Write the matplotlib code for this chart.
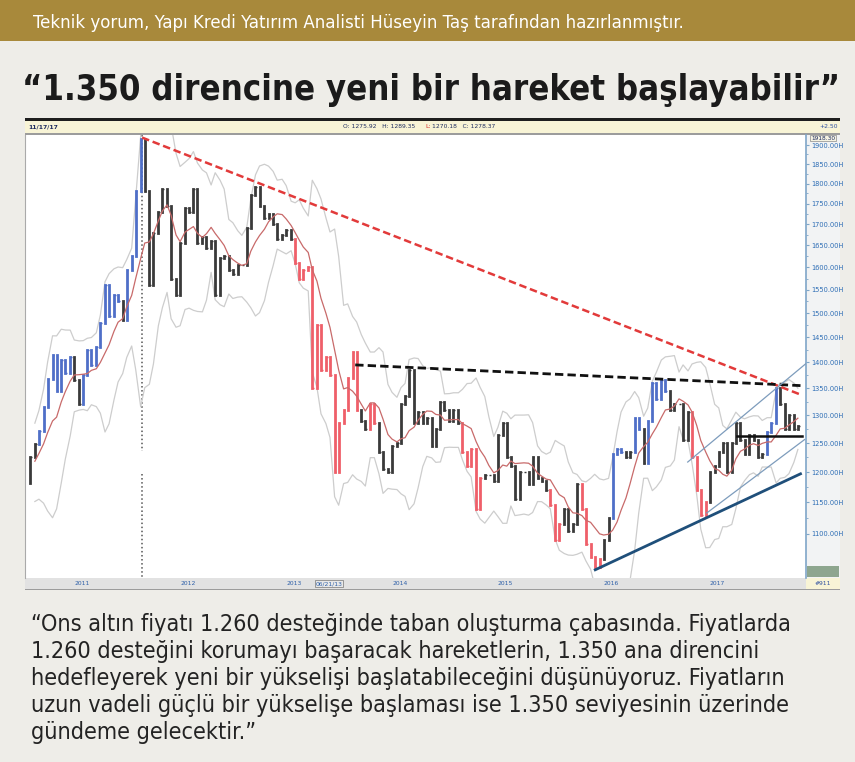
import numpy as np
import pandas as pd
import matplotlib.pyplot as plt
from matplotlib.patches import Rectangle
from matplotlib.ticker import FixedLocator, NullFormatter

# ons altin, yarim aylik kapanislar (1 ve 15'i), Agustos 2010 - Kasim 2017
close_2010 = [1182, 1225, 1248, 1272, 1315, 1368, 1415, 1345, 1405, 1380]
close_2011 = [1410, 1365, 1320, 1375, 1425, 1395, 1430, 1480, 1560, 1495, 1540, 1525,
              1485, 1595, 1625, 1780, 1915, 1780, 1560, 1680, 1730, 1785, 1745, 1575]
close_2012 = [1540, 1655, 1740, 1730, 1785, 1655, 1670, 1645, 1660, 1540, 1620, 1625,
              1595, 1585, 1605, 1605, 1690, 1770, 1790, 1745, 1715, 1725, 1700, 1665]
close_2013 = [1675, 1685, 1665, 1610, 1575, 1595, 1600, 1350, 1475, 1385, 1410, 1375,
              1200, 1285, 1310, 1370, 1420, 1310, 1290, 1275, 1320, 1285, 1235, 1205]
close_2014 = [1200, 1245, 1250, 1320, 1335, 1385, 1285, 1305, 1285, 1295, 1245, 1275,
              1325, 1310, 1290, 1310, 1285, 1235, 1210, 1240, 1140, 1190, 1195, 1195]
close_2015 = [1185, 1265, 1285, 1225, 1210, 1155, 1200, 1200, 1180, 1225, 1190, 1185,
              1170, 1145, 1090, 1115, 1140, 1105, 1115, 1180, 1140, 1085, 1065, 1050]
close_2016 = [1062, 1090, 1125, 1230, 1240, 1235, 1225, 1235, 1295, 1275, 1215, 1290,
              1360, 1330, 1365, 1345, 1310, 1320, 1320, 1255, 1305, 1225, 1170, 1130]
close_2017 = [1150, 1200, 1210, 1235, 1250, 1200, 1250, 1285, 1255, 1230, 1265, 1255,
              1225, 1230, 1270, 1285, 1350, 1320, 1275, 1300, 1275, 1280]

# trend renkleri: k = notr, b = yukselis, r = dusus
trend_2010 = "kkkbbbbbbb"
trend_2011 = "bkkbbbbbbbbbkbbbbkkkkkkk"
trend_2012 = "kkkkkkkkkkkkkkkkkkkkkkkk"
trend_2013 = "kkkrrrrrrrrrrrrrrrkkrrkk"
trend_2014 = "kkkkkkkkkkkkkkkkkrrrrrkk"
trend_2015 = "kkkkkkkkkkkkkrrrkkkkrrrr"
trend_2016 = "rkkbbbkkbbkbbbbbkkkkkrrr"
trend_2017 = "rkkkkkkkkkkkkkbbbkkkkk"

years = ['2011', '2012', '2013', '2014', '2015', '2016', '2017']
y_ticks = [1100, 1150, 1200, 1250, 1300, 1350, 1400, 1450, 1500, 1550, 1600,
           1650, 1700, 1750, 1800, 1850, 1900]

# trend cizgileri (tarih, fiyat)
red_x, red_y = ['2011-09-06', '2017-11-24'], [1920, 1338]
res_x, res_y = ['2013-09-10', '2017-11-24'], [1395, 1355]
sup_x, sup_y = ['2015-12-17', '2017-11-24'], [1046, 1197]
ch_up_x, ch_up_y = ['2016-10-31', '2017-12-20'], [1217, 1401]
ch_lo_x, ch_lo_y = ['2017-01-05', '2017-12-08'], [1133, 1256]
s1260_x, s1260_y = ['2017-04-20', '2017-11-30'], [1262, 1262]
peak_date = '2011-09-06'

header = "Teknik yorum, Yapı Kredi Yatırım Analisti Hüseyin Taş tarafından hazırlanmıştır."
title = "“1.350 direncine yeni bir hareket başlayabilir”"
body = ["“Ons altın fiyatı 1.260 desteğinde taban oluşturma çabasında. Fiyatlarda",
        "1.260 desteğini korumayı başaracak hareketlerin, 1.350 ana direncini",
        "hedefleyerek yeni bir yükselişi başlatabileceğini düşünüyoruz. Fiyatların",
        "uzun vadeli güçlü bir yükselişe başlaması ise 1.350 seviyesinin üzerinde",
        "gündeme gelecektir.”"]

close = np.array(close_2010 + close_2011 + close_2012 + close_2013 +
                 close_2014 + close_2015 + close_2016 + close_2017, dtype=float)
trend = trend_2010 + trend_2011 + trend_2012 + trend_2013 + trend_2014 + trend_2015 + trend_2016 + trend_2017
dates = pd.date_range('2010-08-01', periods=len(close), freq='SMS')

W, H = 855, 762
fig = plt.figure(figsize=(W / 100, H / 100), dpi=100, facecolor='#eeede8')
narrow = ['Liberation Sans Narrow', 'DejaVu Sans']


def box(x0, y0, x1, y1, color):
    fig.add_artist(Rectangle((x0 / W, 1 - y1 / H), (x1 - x0) / W, (y1 - y0) / H,
                             transform=fig.transFigure, facecolor=color,
                             edgecolor='none', zorder=-1))


# ust bant
box(0, 0, W, 41, '#a8893b')
# grafik cercevesi
box(25, 118, 840, 121, '#1e1e1e')
box(25, 121, 840, 133, '#f8f4d6')
box(25, 133, 840, 135, '#9c9c9c')
box(806, 135, 840, 578, '#f2f3f4')
box(25, 578, 840, 589, '#e2e2e2')
box(806, 578, 840, 589, '#f8f4d6')
box(25, 589, 840, 590, '#9c9c9c')
box(807, 566, 839, 577, '#8ea68f')

ax = fig.add_axes([25 / W, 1 - 578 / H, 781 / W, 443 / H], facecolor='white')

# her cubuk: bir onceki kapanistan bu kapanisa, sagda kapanis cizgisi
colmap = {'k': '#3a3a3a', 'b': '#4f6fc8', 'r': '#ef5f69'}
bar_cols = [colmap[c] for c in trend[1:]]
lo = np.minimum(close[:-1], close[1:])
hi = np.maximum(close[:-1], close[1:])
ax.vlines(dates[1:], lo, hi, colors=bar_cols, lw=2.0, capstyle='projecting', zorder=3)
ax.hlines(close[1:], dates[1:], dates[1:] + pd.Timedelta(days=6), colors=bar_cols,
          lw=1.0, zorder=3)

s = pd.Series(close, index=dates)
ma = s.rolling(8, min_periods=3).mean()
sd = s.rolling(8, min_periods=3).std()
ax.plot(dates, ma + 2 * sd, color='#cdcdcd', lw=0.9, zorder=2)
ax.plot(dates, ma - 2 * sd, color='#cdcdcd', lw=0.9, zorder=2)
ax.plot(dates, ma, color='#c86a6a', lw=0.9, zorder=4)

ax.plot(pd.to_datetime(red_x), red_y, color='#e23a3a', lw=1.8, ls=(0, (3, 1.5)), zorder=5)
ax.plot(pd.to_datetime(res_x), res_y, color='#111111', lw=2.0, ls=(0, (3, 1.5)), zorder=5)
ax.plot(pd.to_datetime(sup_x), sup_y, color='#1f4f7a', lw=2.0, zorder=5)
ax.plot(pd.to_datetime(ch_up_x), ch_up_y, color='#7d9cbc', lw=0.9, zorder=5)
ax.plot(pd.to_datetime(ch_lo_x), ch_lo_y, color='#7d9cbc', lw=0.9, zorder=5)
ax.plot(pd.to_datetime(s1260_x), s1260_y, color='#111111', lw=1.8, zorder=5)
pk = pd.Timestamp(peak_date)
ax.plot([pk, pk], [1927, 1236], color='#555555', lw=1.1, ls=':', zorder=1)
ax.plot([pk, pk], [1196, 1034], color='#555555', lw=1.1, ls=':', zorder=1)

ax.set_xlim(pd.Timestamp('2010-07-29'), pd.Timestamp('2017-12-13'))
ax.set_yscale('log')
ax.set_ylim(1034, 1927)
ax.set_xticks([])
ax.yaxis.set_major_locator(FixedLocator(y_ticks))
ax.yaxis.set_minor_locator(FixedLocator([v + 25 for v in y_ticks[:-1]]))
ax.yaxis.set_minor_formatter(NullFormatter())
ax.set_yticklabels([f'{v:.2f}H' for v in y_ticks])
ax.tick_params(axis='y', which='both', left=False, labelleft=False, right=True,
               labelright=True, colors='#7fa6c8', labelcolor='#2d6db5',
               labelsize=4.8, pad=1)
ax.tick_params(axis='y', which='major', length=2.5)
ax.tick_params(axis='y', which='minor', length=1.5)
for side in ['top', 'bottom']:
    ax.spines[side].set_visible(False)
ax.spines['left'].set_color('#aaaaaa')
ax.spines['left'].set_linewidth(0.8)
ax.spines['right'].set_color('#7fa6c8')
ax.spines['right'].set_linewidth(1.2)

for yr in years:
    ax.annotate(yr, xy=(pd.Timestamp(yr + '-01-01'), 0), xycoords=('data', 'axes fraction'),
                xytext=(3, -4), textcoords='offset points', ha='left', va='center',
                fontsize=4.3, color='#2d5fa8')
ax.annotate('06/21/13', xy=(pd.Timestamp('2013-06-12'), 0), xycoords=('data', 'axes fraction'),
            xytext=(0, -4), textcoords='offset points', ha='center', va='center',
            fontsize=4.3, color='#2d5fa8',
            bbox=dict(boxstyle='square,pad=0.15', fc='#e8e8e8', ec='#777777', lw=0.5))

# grafik ust bandi yazilari
fig.text(28 / W, 1 - 127 / H, '11/17/17', fontsize=4.3, color='#1c2b5e', va='center', weight='bold')
fig.text(343 / W, 1 - 127 / H, 'O: 1275.92   H: 1289.35', fontsize=4.3, color='#1c2b5e', va='center')
fig.text(425 / W, 1 - 127 / H, 'L:', fontsize=4.3, color='#d02020', va='center')
fig.text(432 / W, 1 - 127 / H, '1270.18   C: 1278.37', fontsize=4.3, color='#1c2b5e', va='center')
fig.text(838 / W, 1 - 127 / H, '+2.50', fontsize=4.3, color='#2d4fa0', va='center', ha='right')
fig.text(823 / W, 1 - 138 / H, '1918.30', fontsize=4.2, color='#1c2b5e', va='center', ha='center',
         bbox=dict(boxstyle='square,pad=0.1', fc='#f5f2e2', ec='#8a8a8a', lw=0.5))
fig.text(823 / W, 1 - 583.5 / H, '#911', fontsize=4.3, color='#2d4fa0', va='center', ha='center')

# basliklar ve metin (dar yazi: condensed)
t_head = fig.text(33 / W, 1 - 28 / H, header, color='white', fontsize=14,
                  family=narrow, stretch='condensed', va='baseline', ha='left')
t_title = fig.text(22 / W, 1 - 100 / H, title, color='#1b1b1b', fontsize=30, weight='bold',
                   family=narrow, stretch='condensed', va='baseline', ha='left')
t_body = []
for i, line in enumerate(body):
    t_body.append(fig.text(31 / W, 1 - (631 + 27 * i) / H, line, color='#232323', fontsize=17,
                           family=narrow, stretch='condensed', va='baseline', ha='left'))

fig.canvas.draw()
r = fig.canvas.get_renderer()
for t, w in [(t_head, 652), (t_title, 816)]:
    bw = t.get_window_extent(r).width
    t.set_fontsize(t.get_fontsize() * w / bw)
bw = t_body[0].get_window_extent(r).width
fs = t_body[0].get_fontsize() * 759 / bw
for t in t_body:
    t.set_fontsize(fs)

fig.savefig('out.png', dpi=100, facecolor=fig.get_facecolor())
